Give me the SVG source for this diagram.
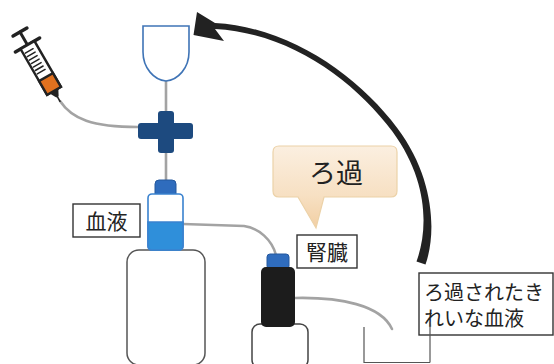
<svg xmlns="http://www.w3.org/2000/svg" width="554" height="364" viewBox="0 0 554 364">
  <defs>
    <linearGradient id="bubbleFill" x1="0" y1="0" x2="0" y2="1">
      <stop offset="0" stop-color="#fbefe0"/>
      <stop offset="0.6" stop-color="#f7e0c3"/>
      <stop offset="1" stop-color="#f2cfa3"/>
    </linearGradient>
  </defs>
  <style>
    .tube { fill: none; stroke: #a3a3a3; stroke-width: 2.6; stroke-linecap: round; }
    .wire { fill: none; stroke: #555; stroke-width: 1.2; }
    .label { fill: #fff; stroke: #333; stroke-width: 1.4; }
    .txt { font-family: "Noto Sans CJK JP", "Noto Sans", sans-serif; fill: #222; }
    .ink { stroke: #222; stroke-linecap: round; fill: none; }
    .cap { fill: #2f6cbd; stroke: #24589e; stroke-width: 1; }
  </style>

  <rect width="554" height="364" fill="#fff"/>

  <!-- tubes and lines -->
  <g id="connectors">
    <path class="tube" d="M60,101 C72,119 92,127 138,127"/>
    <line class="tube" x1="166" y1="81" x2="166" y2="112"/>
    <line class="tube" x1="166" y1="152" x2="166" y2="181"/>
    <path class="tube" d="M183,224 L244,226 C259,228 272,240 276,255"/>
    <path class="tube" d="M295,298 C340,297 381,305 392,329"/>
    <path class="wire" d="M364,327 L364,362.5 L430,362.5"/>
  </g>

  <!-- return arrow -->
  <g id="return-arrow">
    <path fill="#222" d="M425.5,264.5 C436.5,233.5 434.8,178 397.4,128.2 C358.4,76.2 290,27 215,23 L197,12 L193.5,35 L224,41 L215,29 C290,33 353.6,79.8 392.6,131.8 C429.2,182 427.8,230.5 416.5,261.5 Z"/>
  </g>

  <!-- drip chamber -->
  <g id="chamber">
    <path d="M143,26 L189,26 L189,52 C189,68 178,80 166,81 C154,80 143,68 143,52 Z" fill="#fff" stroke="#3f74b6" stroke-width="1.6"/>
  </g>

  <!-- syringe -->
  <g id="syringe" transform="translate(20,32) rotate(-30)">
    <line class="ink" x1="-8" y1="0" x2="8" y2="0" stroke-width="3.5"/>
    <line class="ink" x1="0" y1="0" x2="0" y2="15" stroke-width="3"/>
    <line class="ink" x1="-14" y1="15" x2="14" y2="15" stroke-width="3.5"/>
    <rect x="-8" y="15" width="16" height="53" fill="#fff" stroke="#222" stroke-width="2.4"/>
    <g class="ink" stroke-width="1.5">
      <line x1="-6" y1="21" x2="3" y2="21"/>
      <line x1="-6" y1="25" x2="3" y2="25"/>
      <line x1="-6" y1="29" x2="3" y2="29"/>
      <line x1="-6" y1="33" x2="3" y2="33"/>
      <line x1="-6" y1="37" x2="3" y2="37"/>
      <line x1="-6" y1="41" x2="3" y2="41"/>
      <line x1="-6" y1="45" x2="3" y2="45"/>
    </g>
    <rect x="-8" y="52" width="16" height="16" fill="#e0711f" stroke="#222" stroke-width="2.4"/>
    <polygon points="-5,68 5,68 1.3,75 -1.3,75" fill="#222"/>
    <line class="ink" x1="0" y1="75" x2="0" y2="80" stroke-width="1.6"/>
  </g>

  <!-- three-way connector -->
  <g id="junction" fill="#1d4a7f">
    <rect x="158" y="111" width="16" height="42" rx="3"/>
    <rect x="138" y="123" width="55" height="16" rx="3"/>
  </g>

  <!-- blood reservoir -->
  <g id="blood-bottle">
    <rect x="127" y="250" width="78" height="115" rx="12" fill="#fff" stroke="#555" stroke-width="1.5"/>
    <path class="cap" d="M155,194 L155,184 Q155,180 159,180 L172,180 Q176,180 176,184 L176,194 Z"/>
    <rect x="148" y="194" width="35" height="56" rx="4" fill="#fff" stroke="#3a82cf" stroke-width="1.6"/>
    <path d="M148,222 L183,222 L183,246 Q183,250 179,250 L152,250 Q148,250 148,246 Z" fill="#2f8fda" stroke="#3a82cf" stroke-width="1.6"/>
  </g>

  <!-- dialyzer -->
  <g id="kidney">
    <rect x="252" y="324" width="56" height="44" rx="8" fill="#fff" stroke="#444" stroke-width="1.5"/>
    <rect class="cap" x="267" y="254" width="22" height="15" rx="3"/>
    <rect x="261" y="267" width="34" height="60" rx="5" fill="#1c1c1c"/>
  </g>

  <!-- speech bubble -->
  <g id="bubble">
    <path d="M279,146 L391,146 Q397,146 397,152 L397,191 Q397,197 391,197 L324,197 L316,228 L298,197 L279,197 Q273,197 273,191 L273,152 Q273,146 279,146 Z" fill="url(#bubbleFill)" stroke="#ecd2a8" stroke-width="1.2"/>
    <text class="txt" x="336" y="183" font-size="27" text-anchor="middle">ろ過</text>
  </g>

  <!-- labels -->
  <g id="label-blood">
    <rect class="label" x="73" y="204" width="67" height="33"/>
    <text class="txt" x="106.5" y="228.5" font-size="21" text-anchor="middle">血液</text>
  </g>
  <g id="label-kidney">
    <rect class="label" x="297" y="235" width="60" height="33"/>
    <text class="txt" x="327" y="259.5" font-size="21" text-anchor="middle">腎臓</text>
  </g>
  <g id="label-clean">
    <rect class="label" x="419" y="273" width="134" height="62"/>
    <text class="txt" x="424" y="299.5" font-size="20">ろ過されたき</text>
    <text class="txt" x="424" y="326" font-size="20">れいな血液</text>
    <line class="wire" x1="430" y1="322" x2="430" y2="362.5"/>
  </g>
</svg>
